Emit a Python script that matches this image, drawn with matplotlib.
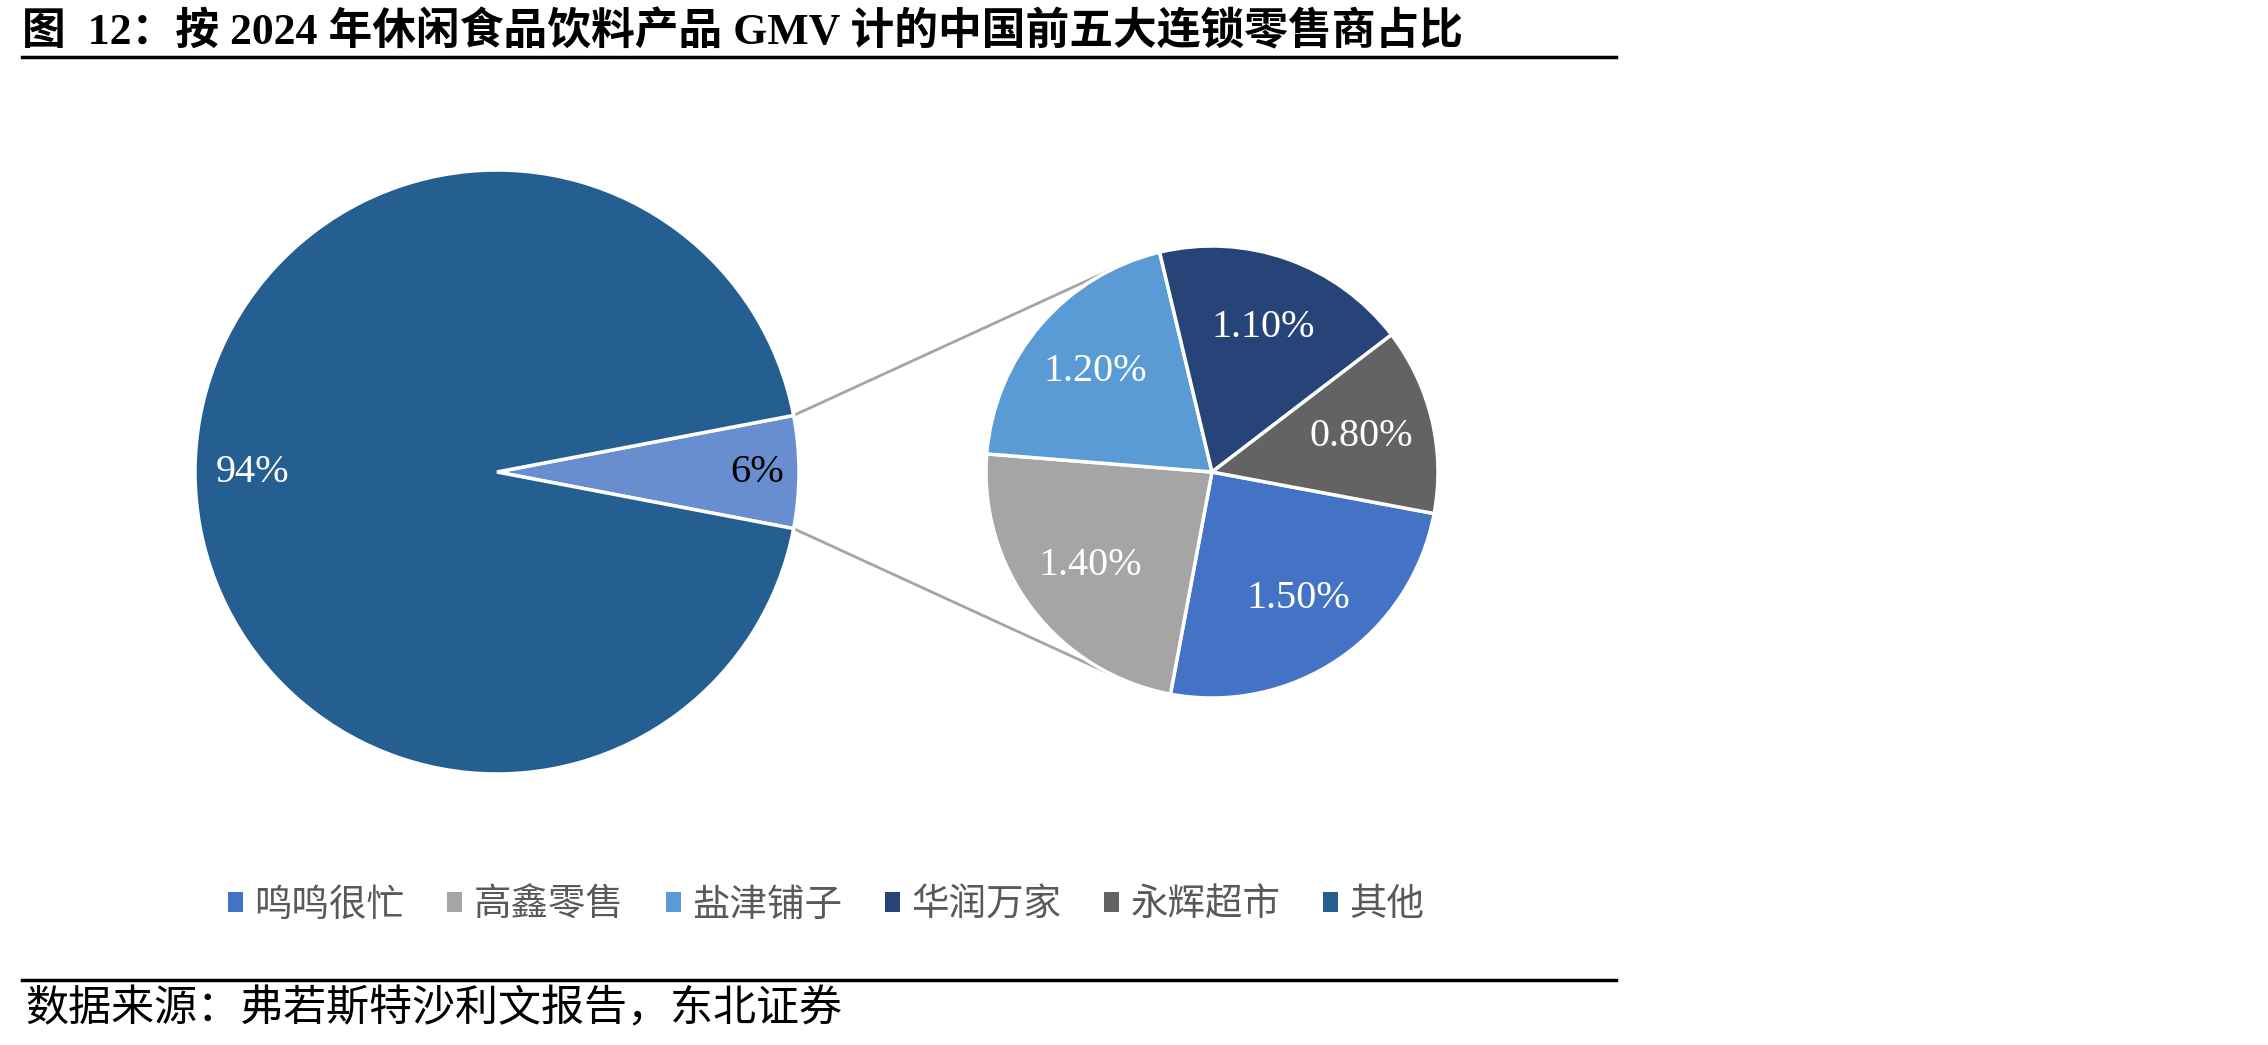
import numpy as np
import matplotlib.pyplot as plt
from matplotlib.lines import Line2D

# chart data
title = "图  12：按 2024 年休闲食品饮料产品 GMV 计的中国前五大连锁零售商占比"
source = "数据来源：弗若斯特沙利文报告，东北证券"

big_labels = ["其他", "前五大"]
big_values = [94, 6]
big_text = ["94%", "6%"]

top5_names = ["鸣鸣很忙", "高鑫零售", "盐津铺子", "华润万家", "永辉超市"]
top5_values = [1.5, 1.4, 1.2, 1.1, 0.8]
top5_text = ["1.50%", "1.40%", "1.20%", "1.10%", "0.80%"]

top5_colors = ["#4472C4", "#A5A5A5", "#5B9BD5", "#264478", "#636363"]
other_color = "#255E91"
sum_color = "#698ED0"

W, H = 2268, 1045
fig = plt.figure(figsize=(W / 100, H / 100), dpi=100)
ax = fig.add_axes([0, 0, 1, 1])

serif_cjk = ["Liberation Serif", "Noto Sans CJK SC"]
cjk = ["Noto Sans CJK SC", "DejaVu Sans"]
pct_font = dict(family="Liberation Serif", fontsize=29)

# main pie (pixel coordinates, y up)
c1 = (497, H - 472)
r1 = 302
half = big_values[1] / sum(big_values) * 180
w1, t1 = ax.pie(big_values[::-1], colors=[sum_color, other_color], center=c1, radius=r1,
                startangle=-half, counterclock=True,
                wedgeprops=dict(edgecolor="white", linewidth=2.5),
                labels=big_text[::-1], textprops=pct_font)
# label spots: 6% near the rim, 94% on the left side
for t, ang, d, col in [(t1[0], 0, 0.86, "black"), (t1[1], 180, 0.81, "white")]:
    a = np.deg2rad(ang)
    t.set_position((c1[0] + d * r1 * np.cos(a), c1[1] + d * r1 * np.sin(a)))
    t.set_color(col)
    t.set_ha("center")
    t.set_va("center")

# secondary pie of the top 5
c2 = (1212, H - 472)
r2 = 226
w2, t2 = ax.pie(top5_values, colors=top5_colors, center=c2, radius=r2,
                startangle=-10.6, counterclock=False,
                wedgeprops=dict(edgecolor="white", linewidth=2.5),
                labels=top5_text, labeldistance=0.68,
                textprops=dict(pct_font, color="white"))
for t in t2:
    t.set_ha("center")
    t.set_va("center")

# connector lines from the 6% wedge to the secondary pie
for s in (1, -1):
    a1 = np.deg2rad(s * half)
    a2 = np.deg2rad(s * 115)
    ax.add_line(Line2D([c1[0] + r1 * np.cos(a1), c2[0] + r2 * np.cos(a2)],
                       [c1[1] + r1 * np.sin(a1), c2[1] + r2 * np.sin(a2)],
                       color="#A5A5A5", lw=2, zorder=0))

ax.set_xlim(0, W)
ax.set_ylim(0, H)
ax.set_aspect("auto")
ax.axis("off")

# legend
handles = list(w2) + [w1[1]]
names = top5_names + [big_labels[0]]
ax.legend(handles, names, ncol=6, loc="center", bbox_to_anchor=(826 / W, 1 - 905 / H),
          frameon=False, prop=dict(family=cjk, size=27), labelcolor="#595959",
          handlelength=0.42, handleheight=0.42, handletextpad=0.3, columnspacing=1.12)
for h in ax.get_legend().legend_handles:
    h.set_edgecolor("none")

# title, rules and source
fig.text(22 / W, 1 - 32 / H, title, fontsize=31.5, fontweight="bold", family=serif_cjk,
         ha="left", va="center")
ax.add_line(Line2D([22, 1616], [H - 57, H - 57], color="black", lw=2.5))
ax.add_line(Line2D([22, 1616], [H - 980, H - 980], color="black", lw=2.5))
fig.text(25 / W, 1 - 1009 / H, source, fontsize=31, family=cjk, ha="left", va="center")

fig.savefig("out.png", dpi=100)
